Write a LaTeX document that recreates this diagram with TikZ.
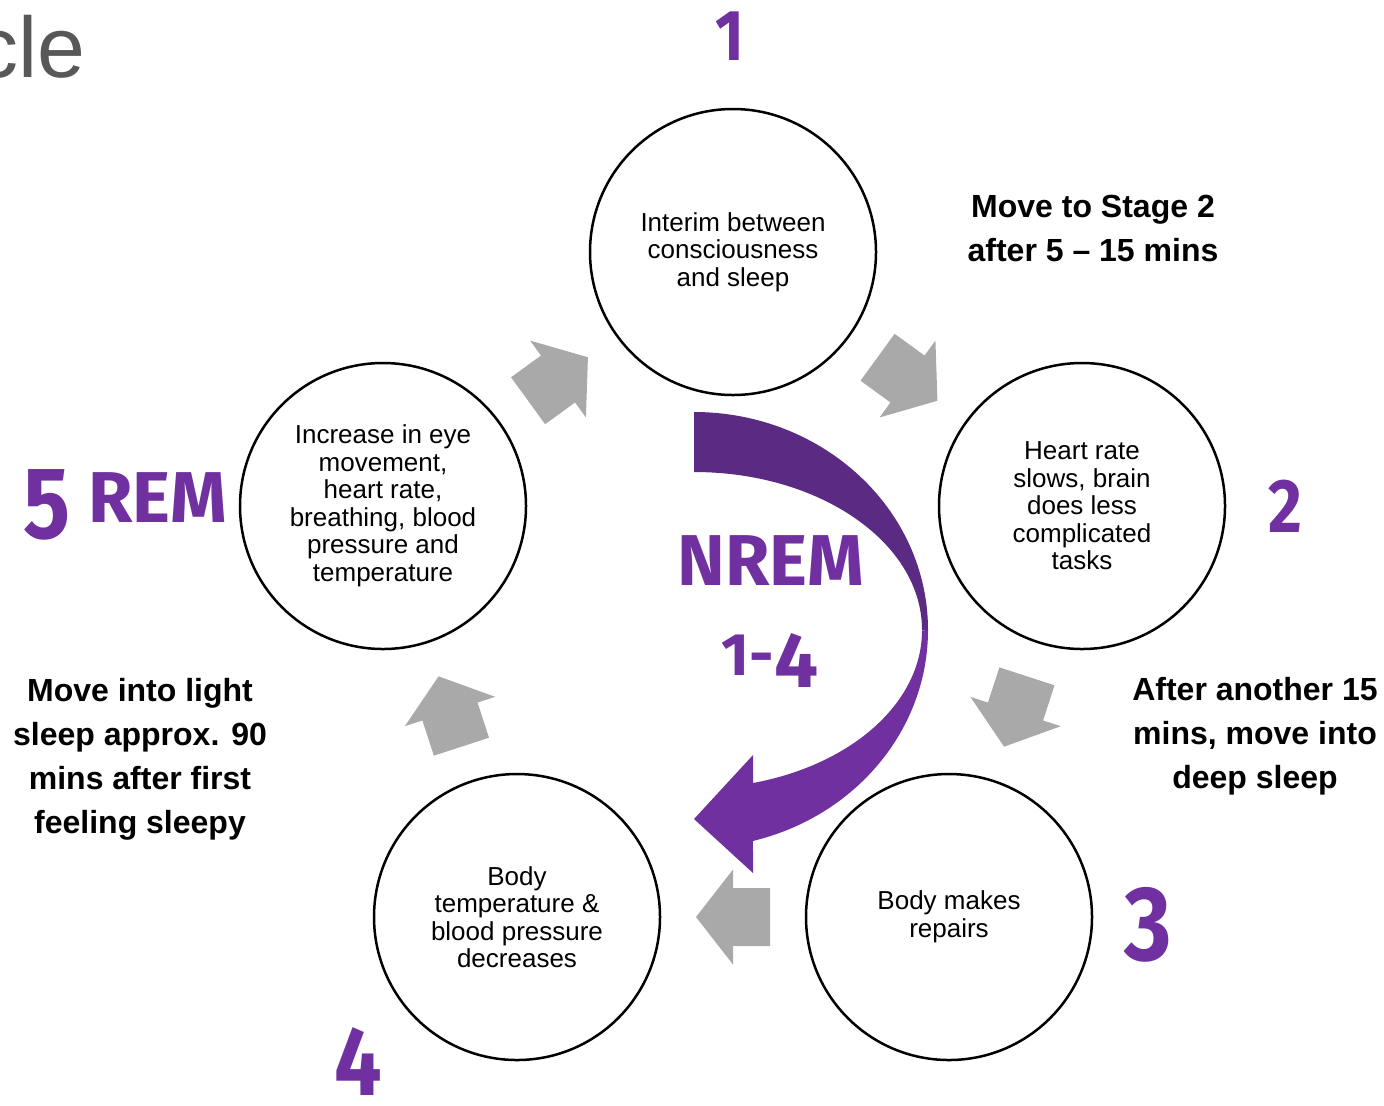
\documentclass[tikz,border=0pt]{standalone}
\usepackage{fontspec}
\setmainfont{Liberation Sans}
\newfontfamily\numfont{Fira Sans}
\usepackage{xcolor}
\usetikzlibrary{calc}
\definecolor{nremdark}{HTML}{5B2A82}
\definecolor{nrempurple}{HTML}{7030A0}
\definecolor{arrowgray}{HTML}{A9A9A9}
\definecolor{titlegray}{HTML}{58585A}
\newcommand{\numsize}[2]{\scalebox{0.86}[1]{\fontsize{#1}{#1}\selectfont #2}}

\begin{document}
\begin{tikzpicture}[x=0.5pt,y=-0.5pt,
    stage/.style={draw, line width=1.25pt, circle, minimum size=143pt, inner sep=0pt,
        align=center, font=\fontsize{13}{13.75}\selectfont},
    numlabel/.style={text=nrempurple, anchor=base, inner sep=0pt, font=\numfont\bfseries},
    note/.style={align=center, font=\bfseries\fontsize{16}{22}\selectfont}]
        \useasboundingbox (0,0) rectangle (1384,1105);
        \node[text=titlegray, anchor=base east, inner sep=0pt, font=\fontsize{43}{43}\selectfont] (title) at (86,77) {cle};
        % stages
        \node[stage] (s1) at (733,252) {Interim between\\consciousness\\and sleep};
        \node[stage] (s2) at (1082,506) {Heart rate\\slows, brain\\does less\\complicated\\tasks};
        \node[stage] (s3) at (949,917) {Body makes\\repairs};
        \node[stage] (s4) at (517,917) {Body\\temperature \&\\blood pressure\\decreases};
        \node[stage] (s5) at (383,506) {Increase in eye\\movement,\\heart rate,\\breathing, blood\\pressure and\\temperature};
        \foreach \a/\b/\ang in {s1/s2/-36, s2/s3/-108, s3/s4/180, s4/s5/108, s5/s1/36}
            \fill[arrowgray, shift={($(\a)!0.5!(\b)$)}, rotate=\ang] (-37,-29) -- (0,-29) -- (0,-47.5) -- (37,0) -- (0,47.5) -- (0,29) -- (-37,29) -- cycle;
        % NREM arrow
        \fill[nremdark] (694,412) arc[start angle=-90, end angle=0, x radius=234, y radius=218] -- (922,630) arc[start angle=0, end angle=-90, x radius=228, y radius=158] -- cycle;
        \fill[nrempurple] (928,630) arc[start angle=0, end angle=75.4, x radius=234, y radius=218] -- (753,873) -- (694,819) -- (753,755) -- (753,783) arc[start angle=75, end angle=0, x radius=228, y radius=158] -- cycle;
        \node[numlabel, font=\numfont\bfseries\fontsize{36}{36}\selectfont] (nrem) at (771,585) {NREM};
        \node[numlabel] (nremrange) at (770,675) {{\fontsize{30}{30}\selectfont 1-}\raisebox{-6pt}{\fontsize{39}{39}\selectfont 4}};
        % numbers
        \node[numlabel] (n1) at (730,60) {\numsize{36}{1}};
        \node[numlabel] (n2) at (1285,532) {\numsize{38}{2}};
        \node[numlabel] (n3) at (1148,960) {\numsize{53}{3}};
        \node[numlabel] (n4) at (358,1095) {\numsize{49}{4}};
        \node[numlabel] (n5) at (125,538) {\numsize{51}{5}\hspace{9pt}\raisebox{8pt}{\fontsize{36}{36}\selectfont REM}};
        % notes
        \node[note] (t12) at (1093,228) {Move to Stage 2\\after 5 -- 15 mins};
        \node[note] (t23) at (1255,736) {After another 15\\mins, move into\\deep sleep};
        \node[note] (t51) at (140,759) {Move into light\\sleep approx. 90\\mins after first\\feeling sleepy};
    \end{tikzpicture}
\end{document}
